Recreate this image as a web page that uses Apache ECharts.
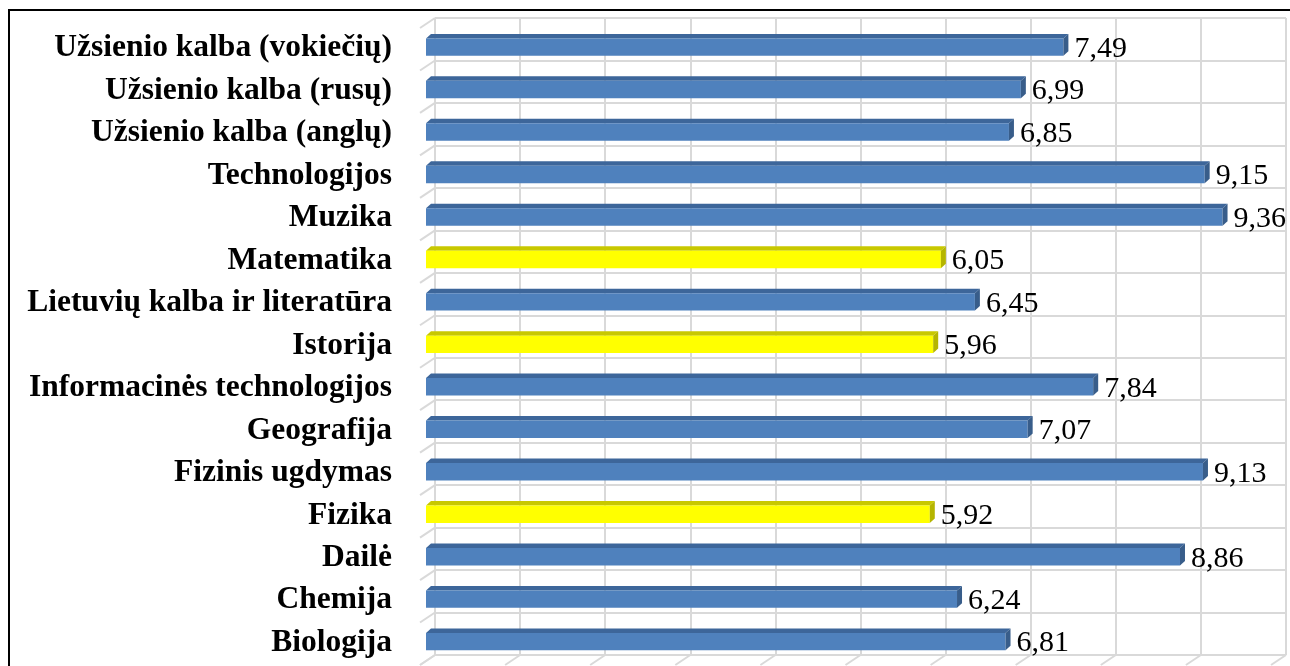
<!DOCTYPE html>
<html>
<head>
<meta charset="utf-8">
<script src="https://cdn.jsdelivr.net/npm/echarts@6/dist/echarts.min.js"></script>
<style>
html,body{margin:0;padding:0;background:#fff;}
#c{width:1290px;height:666px;}
</style>
</head>
<body>
<div id="c"></div>
<script>
const categories = ['Biologija','Chemija','Dailė','Fizika','Fizinis ugdymas','Geografija','Informacinės technologijos','Istorija','Lietuvių kalba ir literatūra','Matematika','Muzika','Technologijos','Užsienio kalba (anglų)','Užsienio kalba (rusų)','Užsienio kalba (vokiečių)'];
const values = [6.81, 6.24, 8.86, 5.92, 9.13, 7.07, 7.84, 5.96, 6.45, 6.05, 9.36, 9.15, 6.85, 6.99, 7.49];
const highlighted = ['Fizika','Istorija','Matematika'];
const xTicks = [0,1,2,3,4,5,6,7,8,9,10];

const blue = {front:'#4F81BD', top:'#3D669A', side:'#385D8A'};
const yellow = {front:'#FFFF00', top:'#C8C800', side:'#B5B500'};

const chart = echarts.init(document.getElementById('c'));

function renderBar(params, api){
  const idx = api.value(0);
  const val = api.value(1);
  const p0 = api.coord([0, idx]);
  const p1 = api.coord([val, idx]);
  const band = api.size([0, 1])[1];
  const yc = p0[1];
  const fx0 = p0[0] - 9, fx1 = p1[0] - 9;
  const ft = yc - 0.02*band, fb = yc + 0.39*band;
  const dx = 5, dy = -4.5;
  const col = highlighted.indexOf(categories[idx]) >= 0 ? yellow : blue;
  const lbl = val.toFixed(2).replace('.', ',');
  return {
    type:'group',
    children:[
      {type:'polygon', shape:{points:[[fx0,ft],[fx1,ft],[fx1+dx,ft+dy],[fx0+dx,ft+dy]]}, style:{fill:col.top}},
      {type:'rect', shape:{x:fx0, y:ft, width:fx1-fx0, height:fb-ft}, style:{fill:col.front}},
      {type:'polygon', shape:{points:[[fx1,ft],[fx1+dx,ft+dy],[fx1+dx,fb+dy],[fx1,fb]]}, style:{fill:col.side}},
      {type:'text', style:{text:lbl, x:fx1+dx+6, y:(ft+fb)/2+2, verticalAlign:'middle', align:'left', font:'30px "Liberation Serif"', fill:'#000'}}
    ]
  };
}

function renderSideTicks(params, api){
  const idx = api.value(0);
  const p = api.coord([0, idx]);
  const band = api.size([0,1])[1];
  const y = p[1] - band/2;
  const lines = [{type:'line', shape:{x1:p[0], y1:y, x2:p[0]-15, y2:y+10}, style:{stroke:'#D9D9D9', lineWidth:2}}];
  if (idx === 0) {
    const yb = p[1] + band/2;
    lines.push({type:'line', shape:{x1:p[0], y1:yb, x2:p[0]-15, y2:yb+10}, style:{stroke:'#D9D9D9', lineWidth:2}});
  }
  return {type:'group', children:lines};
}

function renderFloor(params, api){
  const v = api.value(0);
  const p = api.coord([v, 0]);
  const band = api.size([0,1])[1];
  const yb = p[1] + band/2;
  return {type:'line', shape:{x1:p[0], y1:yb, x2:p[0]-15, y2:yb+10}, style:{stroke:'#D9D9D9', lineWidth:2}};
}

chart.setOption({
  animation:false,
  backgroundColor:'#fff',
  grid:{left:435, right:4, top:18, bottom:11, containLabel:false},
  xAxis:{type:'value', min:0, max:10, interval:1,
    axisLabel:{show:false}, axisLine:{show:false}, axisTick:{show:false},
    splitLine:{show:true, lineStyle:{color:'#D9D9D9', width:2}}},
  yAxis:{type:'category', data:categories,
    axisLine:{show:false}, axisTick:{show:false},
    splitLine:{show:true, lineStyle:{color:'#D9D9D9', width:2}},
    axisLabel:{margin:43, color:'#000', fontFamily:'"Liberation Serif"', fontWeight:'bold', fontSize:31.5, verticalAlign:'top', lineHeight:18}},
  graphic:[{type:'polyline', silent:true, z:100, shape:{points:[[9,666],[9,10],[1290,10]]}, style:{stroke:'#000', lineWidth:2, fill:null}}],
  series:[
    {type:'custom', coordinateSystem:'cartesian2d', renderItem:renderSideTicks, data:categories.map((c,i)=>[i]), z:1, silent:true},
    {type:'custom', coordinateSystem:'cartesian2d', renderItem:renderFloor, data:xTicks.map(v=>[v, 0]), encode:{x:0}, z:1, silent:true},
    {type:'custom', coordinateSystem:'cartesian2d', renderItem:renderBar, data:values.map((v,i)=>[i, v]), encode:{y:0, x:1}, z:5}
  ]
});
</script>
</body>
</html>
